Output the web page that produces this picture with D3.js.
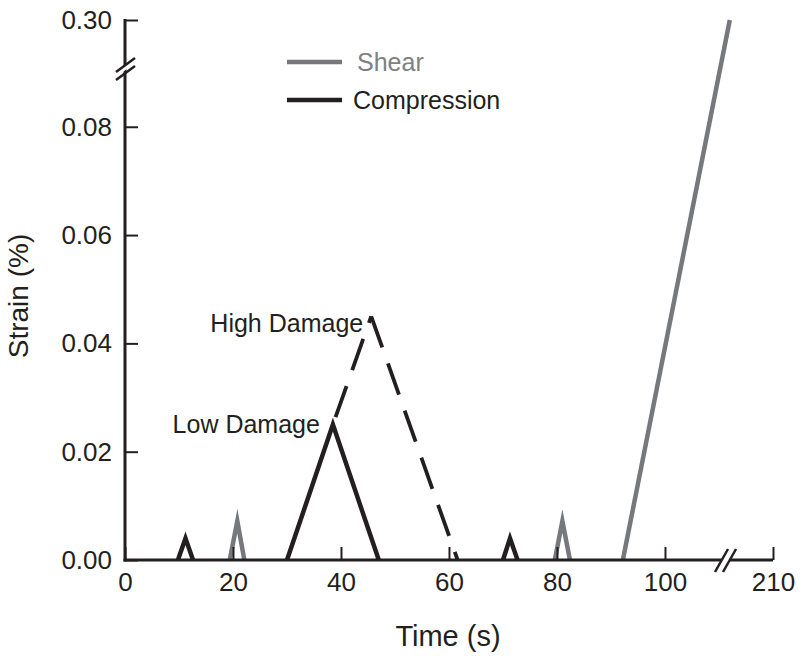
<!DOCTYPE html>
<html>
<head>
<meta charset="utf-8">
<script src="https://cdn.jsdelivr.net/npm/d3@7"></script>
<style>
  body { margin: 0; background: #fff; }
  svg text { font-family: "Liberation Sans", Arial, sans-serif; fill: #231f20; }
</style>
</head>
<body>
<svg id="chart" width="800" height="660"></svg>
<script>
// Strain vs time, shear / compression loading (broken axes)

const timeTicks = [0, 20, 40, 60, 80, 100, 210];
const strainTicks = [0, 0.02, 0.04, 0.06, 0.08, 0.30];

// compression pulses (solid black)
const compression1Time = [9.8, 11.2, 12.6];
const compression1Strain = [0, 0.004, 0];
const compressionLowTime = [30, 38.5, 47];
const compressionLowStrain = [0, 0.025, 0];
const compression2Time = [70, 71.3, 72.7];
const compression2Strain = [0, 0.004, 0];

// high damage compression (dashed)
const highDamageTime = [38.5, 45.6, 61.6];
const highDamageStrain = [0.025, 0.045, 0];

// shear pulses (grey)
const shear1Time = [19.4, 20.8, 22.1];
const shear1Strain = [0, 0.0072, 0];
const shear2Time = [79.6, 81, 82.4];
const shear2Strain = [0, 0.0072, 0];
const shearRampTime = [92.2, 202];
const shearRampStrain = [0, 0.30];

const compColor = "#231f20";
const shearColor = "#77787b";

const svg = d3.select("#chart");

// broken x axis: 111.3 -> 201.3 skipped
const x = d3.scaleLinear()
    .domain([0, 111.3, 201.3, 210])
    .range([125, 726, 726, 773]);

// broken y axis: 0.09 -> 0.29 skipped
const y = d3.scaleLinear()
    .domain([0, 0.09, 0.29, 0.30])
    .range([560, 72.6, 74, 20]);

const line = d3.line().x(d => x(d[0])).y(d => y(d[1]));
const zip = (t, s) => t.map((v, i) => [v, s[i]]);

function drawSeries(t, s, color) {
    svg.append("path")
        .attr("d", line(zip(t, s)))
        .attr("fill", "none")
        .attr("stroke", color)
        .attr("stroke-width", 4.5)
        .attr("stroke-linejoin", "miter")
        .attr("stroke-miterlimit", 10);
}

drawSeries(shear1Time, shear1Strain, shearColor);
drawSeries(shear2Time, shear2Strain, shearColor);
drawSeries(shearRampTime, shearRampStrain, shearColor);
drawSeries(compression1Time, compression1Strain, compColor);
drawSeries(compression2Time, compression2Strain, compColor);
drawSeries(compressionLowTime, compressionLowStrain, compColor);

// dashed high damage: dashes run out from the peak both ways
const hd = zip(highDamageTime, highDamageStrain);
svg.append("path")
    .attr("d", line([hd[1], hd[0]]))
    .attr("fill", "none")
    .attr("stroke", compColor)
    .attr("stroke-width", 3.8)
    .attr("stroke-dasharray", "33 17")
    .attr("stroke-dashoffset", 26);
svg.append("path")
    .attr("d", line([hd[1], hd[2]]))
    .attr("fill", "none")
    .attr("stroke", compColor)
    .attr("stroke-width", 3.8)
    .attr("stroke-dasharray", "33 17");

// axes
const xAxis = svg.append("g")
    .attr("transform", "translate(0,560)")
    .call(d3.axisBottom(x)
        .tickValues(timeTicks)
        .tickFormat(d3.format("d"))
        .tickSizeInner(-13)
        .tickSizeOuter(0)
        .tickPadding(13));

const yAxis = svg.append("g")
    .attr("transform", "translate(125,0)")
    .call(d3.axisLeft(y)
        .tickValues(strainTicks)
        .tickFormat(d3.format(".2f"))
        .tickSizeInner(-13)
        .tickSizeOuter(0)
        .tickPadding(13));

[xAxis, yAxis].forEach(g => {
    g.select(".domain").attr("stroke", compColor).attr("stroke-width", 3);
    g.selectAll(".tick line").attr("stroke", compColor).attr("stroke-width", 2);
    g.selectAll(".tick text")
        .style("font-size", "26px")
        .attr("fill", compColor);
});
// extend x domain line to the y axis corner
xAxis.select(".domain").attr("d", "M123.5,0H773");
yAxis.select(".domain").attr("d", "M0,19V561.5");

// axis break marks
const yb = 69;
svg.append("polygon")
    .attr("points", `120,${yb + 5} 131,${yb - 3} 131,${yb - 8} 120,${yb}`)
    .attr("fill", "#fff");
[[0], [8]].forEach(([o]) => {
    svg.append("line")
        .attr("x1", 116).attr("y1", yb + 6 - o + 5)
        .attr("x2", 135).attr("y2", yb - 8 - o + 5)
        .attr("stroke", compColor).attr("stroke-width", 2.5);
});

const xb = x(111.3);
svg.append("rect")
    .attr("x", xb - 4).attr("y", 556).attr("width", 8).attr("height", 8)
    .attr("fill", "#fff");
[-4, 4].forEach(o => {
    svg.append("line")
        .attr("x1", xb + o - 7).attr("y1", 572)
        .attr("x2", xb + o + 6).attr("y2", 549)
        .attr("stroke", compColor).attr("stroke-width", 2.5);
});

// axis titles
svg.append("text")
    .attr("x", 448).attr("y", 646)
    .attr("text-anchor", "middle")
    .style("font-size", "29px")
    .text("Time (s)");

svg.append("text")
    .attr("transform", "translate(28,296) rotate(-90)")
    .attr("text-anchor", "middle")
    .style("font-size", "28px")
    .text("Strain (%)");

// annotations
svg.append("text")
    .attr("x", x(45.6) - 8).attr("y", y(0.045) + 16)
    .attr("text-anchor", "end")
    .style("font-size", "25px")
    .text("High Damage");
svg.append("text")
    .attr("x", x(38.5) - 13).attr("y", y(0.025) + 8)
    .attr("text-anchor", "end")
    .style("font-size", "25px")
    .text("Low Damage");

// legend
const legendItems = [
    {label: "Shear", color: shearColor, textColor: "#808080", y: 62, tx: 357},
    {label: "Compression", color: compColor, textColor: compColor, y: 100, tx: 353}
];
legendItems.forEach(d => {
    svg.append("line")
        .attr("x1", 287).attr("x2", 342)
        .attr("y1", d.y).attr("y2", d.y)
        .attr("stroke", d.color)
        .attr("stroke-width", 4.5);
    svg.append("text")
        .attr("x", d.tx).attr("y", d.y)
        .attr("dy", "0.36em")
        .style("font-size", "25px")
        .style("fill", d.textColor)
        .text(d.label);
});
</script>
</body>
</html>
